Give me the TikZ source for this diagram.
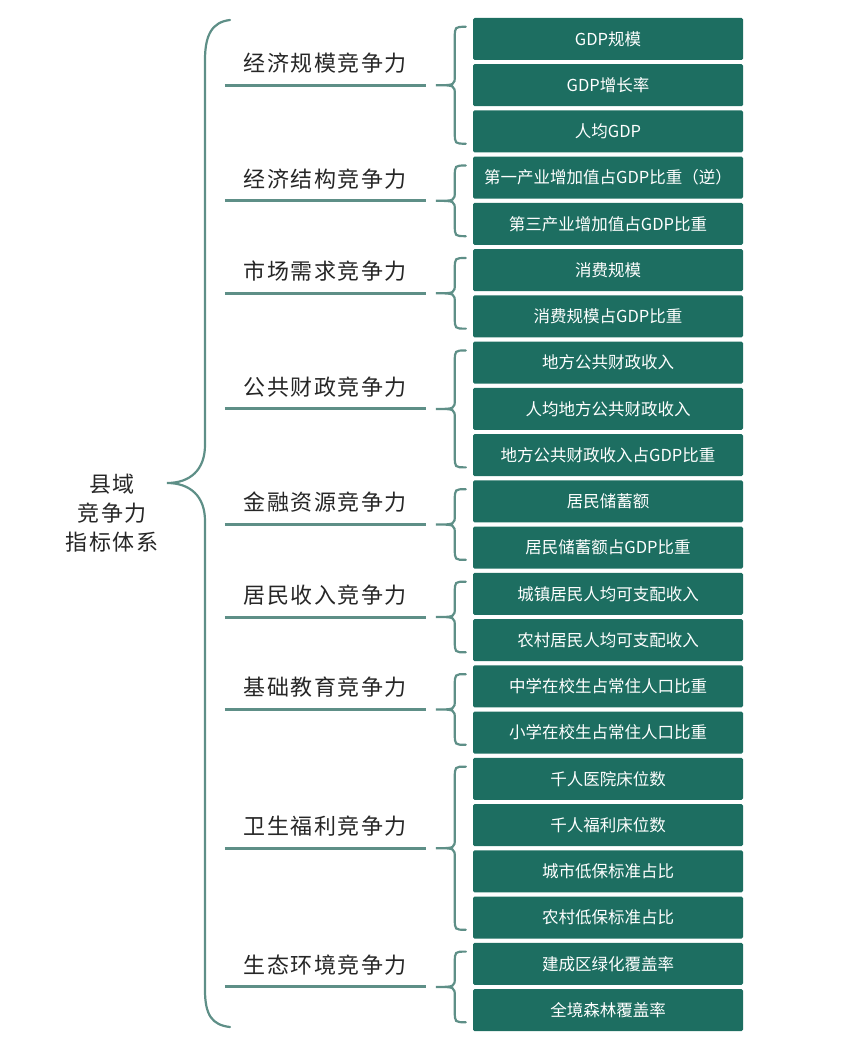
\documentclass[tikz,border=0pt]{standalone}
\usepackage{fontspec}
\setmainfont{Noto Sans CJK SC}
\newfontfamily\catfont[LetterSpace=7]{Noto Sans CJK SC}
\usepackage{tikz}
\usetikzlibrary{positioning,calc}
\definecolor{boxgreen}{HTML}{1D6E61}
\definecolor{bracegreen}{HTML}{5E8F87}
\definecolor{labelgray}{HTML}{262626}

\begin{document}
\begin{tikzpicture}[x=1pt, y=-1pt,
   ind/.style={fill=boxgreen, rounded corners=1.5pt, minimum width=270pt, minimum height=42pt, inner sep=0pt, text=white, font=\fontsize{16.5}{18}\selectfont},
   cat/.style={text=labelgray, font=\catfont\fontsize{22}{29}\selectfont},
   brc/.style={draw=bracegreen, line width=2.2pt, line cap=round},
   lnk/.style={draw=bracegreen, line width=3pt}]
   \useasboundingbox (0,0) rectangle (865,1041);

   % indicator boxes
   \foreach \t [count=\i] in {GDP规模, GDP增长率, 人均GDP, 第一产业增加值占GDP比重（逆）, 第三产业增加值占GDP比重, 消费规模, 消费规模占GDP比重, 地方公共财政收入, 人均地方公共财政收入, 地方公共财政收入占GDP比重, 居民储蓄额, 居民储蓄额占GDP比重, 城镇居民人均可支配收入, 农村居民人均可支配收入, 中学在校生占常住人口比重, 小学在校生占常住人口比重, 千人医院床位数, 千人福利床位数, 城市低保标准占比, 农村低保标准占比, 建成区绿化覆盖率, 全境森林覆盖率}
      \node[ind] (b\i) at (608, {39+(\i-1)*46.24}) {\t};

   % groups: brace over the boxes, line and label
   \foreach \a/\b/\name [count=\k] in {1/3/经济规模竞争力, 4/5/经济结构竞争力, 6/7/市场需求竞争力, 8/10/公共财政竞争力, 11/12/金融资源竞争力, 13/14/居民收入竞争力, 15/16/基础教育竞争力, 17/20/卫生福利竞争力, 21/22/生态环境竞争力}{
      \coordinate (t\k) at ($(b\a.north west)!0.5!(b\b.south west) + (-37,0)$);
      \draw[brc] let \p1=(b\a.north west), \p2=(b\b.south west), \p3=(t\k) in
         (\x1-7pt, \y1-9pt) .. controls (\x1-18pt, \y1-9pt) .. (\x1-18pt, \y1-20pt)
         -- (\x1-18pt, \y3+10pt) .. controls (\x1-18pt, \y3) .. (\p3)
         .. controls (\x1-18pt, \y3) .. (\x1-18pt, \y3-10pt)
         -- (\x1-18pt, \y2+20pt) .. controls (\x1-18pt, \y2+9pt) .. (\x1-7pt, \y2+9pt);
      \draw[lnk] ([xshift=-211pt]t\k) -- node[cat, above=7pt] (c\k) {\name} ([xshift=-10pt]t\k);
   }

   % root
   \node[cat, align=center] (root) at (112,513) {县域\\竞争力\\指标体系};
   \coordinate (rt) at (167,483);
   \draw[brc] (230,20) .. controls (212,22) and (205,35) .. (205,60) -- (205,445)
      .. controls (205,470) and (190,483) .. (rt)
      .. controls (190,483) and (205,496) .. (205,521) -- (205,990)
      .. controls (205,1015) and (212,1025) .. (230,1027);
\end{tikzpicture}
\end{document}
